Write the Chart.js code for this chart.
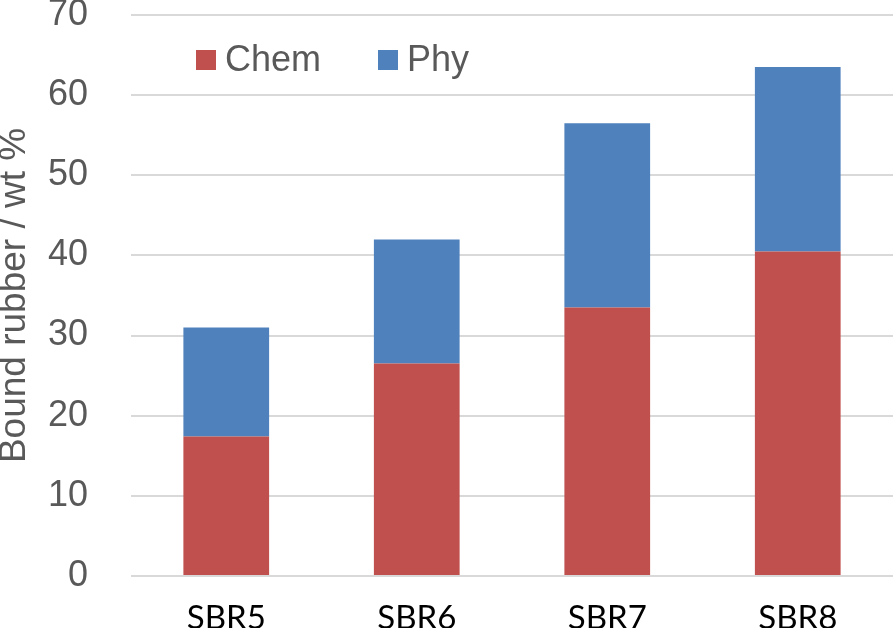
<!doctype html>
<html>
<head>
<meta charset="utf-8">
<title>Bound rubber</title>
<script src="https://cdn.jsdelivr.net/npm/chart.js"></script>
<style>
  html, body { margin: 0; padding: 0; background: #fff; }
  #wrap { width: 894px; height: 628px; position: relative; }
</style>
</head>
<body>
<div id="wrap"><canvas id="chart"></canvas></div>
<script>
const samples = ['SBR5', 'SBR6', 'SBR7', 'SBR8']
const chem = [17.4, 26.5, 33.5, 40.5]
const phy = [13.6, 15.5, 23.0, 23.0]
const yTicks = [0, 10, 20, 30, 40, 50, 60, 70]

const grey = '#595959'

// legend drawn inside the plot, top left
const innerLegend = {
  id: 'innerLegend',
  afterDraw(chart) {
    const ctx = chart.ctx
    const spots = [{ box: 196, text: 225 }, { box: 378, text: 407 }]
    ctx.save()
    ctx.font = '36px "Liberation Sans", Arial, sans-serif'
    ctx.textBaseline = 'middle'
    chart.data.datasets.forEach((ds, i) => {
      ctx.fillStyle = ds.backgroundColor
      ctx.fillRect(spots[i].box, 50, 20, 20)
      ctx.fillStyle = grey
      ctx.fillText(ds.label, spots[i].text, 61)
    })
    ctx.restore()
  }
}

new Chart(document.getElementById('chart'), {
  type: 'bar',
  data: {
    labels: samples,
    datasets: [
      { label: 'Chem', data: chem, backgroundColor: '#C0504D' },
      { label: 'Phy', data: phy, backgroundColor: '#4F81BD' }
    ]
  },
  options: {
    responsive: true,
    maintainAspectRatio: false,
    animation: false,
    layout: { padding: { top: 0, right: 1, bottom: 0, left: 0 } },
    plugins: { legend: { display: false }, tooltip: { enabled: false } },
    datasets: { bar: { categoryPercentage: 1, barPercentage: 0.45 } },
    scales: {
      x: {
        stacked: true,
        grid: { display: false },
        border: { display: false },
        ticks: {
          color: '#000',
          padding: 15,
          font: { family: 'Lato, "Open Sans", sans-serif', size: 33 }
        },
        afterFit(scale) { scale.height = 52 }
      },
      y: {
        stacked: true,
        min: 0,
        max: 70,
        afterBuildTicks(scale) { scale.ticks = yTicks.map(v => ({ value: v })) },
        grid: { color: '#D9D9D9', lineWidth: 2, drawTicks: false },
        border: { display: false },
        ticks: {
          color: grey,
          padding: 43,
          font: { family: '"Liberation Sans", Arial, sans-serif', size: 36 }
        },
        title: {
          display: true,
          text: 'Bound rubber / wt %',
          color: grey,
          padding: 0,
          font: { family: '"Liberation Sans", Arial, sans-serif', size: 37, lineHeight: 0.8 }
        },
        afterFit(scale) {
          scale.width = 131
          scale.paddingTop = 15
          scale.paddingBottom = 0
        }
      }
    }
  },
  plugins: [innerLegend]
})
</script>
</body>
</html>
